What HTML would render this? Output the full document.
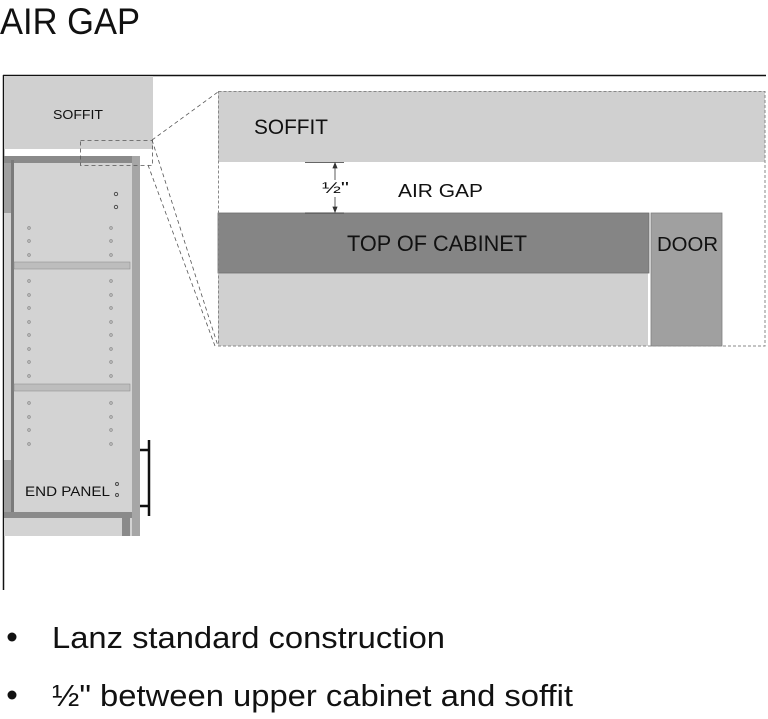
<!DOCTYPE html>
<html><head><meta charset="utf-8"><style>html,body{margin:0;padding:0;background:#fff}svg{display:block}text{font-family:"Liberation Sans",sans-serif;fill:#111}</style></head><body>
<svg width="768" height="719" viewBox="0 0 768 719" xmlns="http://www.w3.org/2000/svg">
<text x="0" y="34" font-size="37" textLength="140" lengthAdjust="spacingAndGlyphs">AIR GAP</text>
<line x1="3.5" y1="75" x2="3.5" y2="590" stroke="#111" stroke-width="1.5"/>
<line x1="3" y1="75.5" x2="766" y2="75.5" stroke="#111" stroke-width="1.5"/>
<rect x="4" y="76" width="149" height="73" fill="#d0d0d0"/>
<text x="53" y="119" font-size="13" textLength="50" lengthAdjust="spacingAndGlyphs">SOFFIT</text>
<rect x="4" y="156" width="136" height="380" fill="#d3d3d3"/>
<rect x="4" y="156" width="128" height="7" fill="#8a8a8a"/>
<rect x="132" y="156" width="8" height="380" fill="#a6a6a6"/>
<rect x="11" y="160" width="3" height="352" fill="#7a7a7a"/>
<rect x="4" y="163" width="7" height="50" fill="#a0a0a0"/>
<rect x="4" y="460" width="7" height="52" fill="#a0a0a0"/>
<rect x="4" y="512" width="128" height="6" fill="#8a8a8a"/>
<rect x="122" y="518" width="8" height="18" fill="#8a8a8a"/>
<rect x="14" y="262" width="116" height="7" fill="#bdbdbd" stroke="#888" stroke-width="0.5"/>
<rect x="14" y="384" width="116" height="7" fill="#bdbdbd" stroke="#888" stroke-width="0.5"/>
<g fill="none" stroke="#888" stroke-width="0.8">
<circle cx="29" cy="228" r="1.3"/><circle cx="111" cy="228" r="1.3"/>
<circle cx="29" cy="241" r="1.3"/><circle cx="111" cy="241" r="1.3"/>
<circle cx="29" cy="255" r="1.3"/><circle cx="111" cy="255" r="1.3"/>
<circle cx="29" cy="281" r="1.3"/><circle cx="111" cy="281" r="1.3"/>
<circle cx="29" cy="295" r="1.3"/><circle cx="111" cy="295" r="1.3"/>
<circle cx="29" cy="308" r="1.3"/><circle cx="111" cy="308" r="1.3"/>
<circle cx="29" cy="322" r="1.3"/><circle cx="111" cy="322" r="1.3"/>
<circle cx="29" cy="335" r="1.3"/><circle cx="111" cy="335" r="1.3"/>
<circle cx="29" cy="349" r="1.3"/><circle cx="111" cy="349" r="1.3"/>
<circle cx="29" cy="362" r="1.3"/><circle cx="111" cy="362" r="1.3"/>
<circle cx="29" cy="376" r="1.3"/><circle cx="111" cy="376" r="1.3"/>
<circle cx="29" cy="403" r="1.3"/><circle cx="111" cy="403" r="1.3"/>
<circle cx="29" cy="417" r="1.3"/><circle cx="111" cy="417" r="1.3"/>
<circle cx="29" cy="430" r="1.3"/><circle cx="111" cy="430" r="1.3"/>
<circle cx="29" cy="444" r="1.3"/><circle cx="111" cy="444" r="1.3"/>
</g>
<g fill="none" stroke="#444" stroke-width="0.9">
<circle cx="116" cy="194" r="1.7"/><circle cx="116" cy="207" r="1.7"/>
<circle cx="117" cy="484" r="1.5"/><circle cx="117" cy="495" r="1.5"/>
</g>
<text x="25" y="496" font-size="14" textLength="85" lengthAdjust="spacingAndGlyphs">END PANEL</text>
<g stroke="#111" stroke-width="2.5" fill="none">
<line x1="149" y1="440" x2="149" y2="516"/>
<line x1="140" y1="450" x2="149" y2="450"/>
<line x1="140" y1="506" x2="149" y2="506"/>
</g>
<rect x="218" y="91" width="547" height="71" fill="#d0d0d0"/>
<rect x="218" y="273" width="430" height="73" fill="#d0d0d0"/>
<rect x="218" y="213" width="431" height="60" fill="#858585" stroke="#6e6e6e" stroke-width="0.8"/>
<rect x="651" y="213" width="71" height="133" fill="#a0a0a0" stroke="#808080" stroke-width="0.8"/>
<rect x="218.5" y="91.5" width="546.5" height="254.5" fill="none" stroke="#888" stroke-width="1" stroke-dasharray="3,2"/>
<text x="254" y="134" font-size="21" textLength="74" lengthAdjust="spacingAndGlyphs">SOFFIT</text>
<text x="347" y="251" font-size="22" textLength="180" lengthAdjust="spacingAndGlyphs">TOP OF CABINET</text>
<text x="657" y="251" font-size="20" textLength="61" lengthAdjust="spacingAndGlyphs">DOOR</text>
<text x="398" y="197" font-size="18" textLength="85" lengthAdjust="spacingAndGlyphs">AIR GAP</text>
<text x="322" y="193" font-size="16" textLength="27" lengthAdjust="spacingAndGlyphs">½"</text>
<g stroke="#333" stroke-width="0.8" fill="#333">
<line x1="305" y1="162.5" x2="344" y2="162.5"/>
<line x1="305" y1="213" x2="344" y2="213"/>
<line x1="335" y1="164" x2="335" y2="180"/>
<line x1="335" y1="197" x2="335" y2="212"/>
<path d="M335 163 l-2 5 h4z"/><path d="M335 212 l-2 -5 h4z"/>
</g>
<g stroke="#555" stroke-width="0.8" fill="none" stroke-dasharray="4,3">
<rect x="80.5" y="140.5" width="72" height="25"/>
<line x1="152" y1="140" x2="218" y2="92"/>
<line x1="152" y1="140" x2="218" y2="346"/>
<line x1="148" y1="165" x2="215" y2="346"/>
</g>
<circle cx="12" cy="637" r="4.5" fill="#111"/>
<text x="52" y="648" font-size="31" textLength="393" lengthAdjust="spacingAndGlyphs">Lanz standard construction</text>
<circle cx="12" cy="695" r="4.5" fill="#111"/>
<text x="52" y="706" font-size="31" textLength="521" lengthAdjust="spacingAndGlyphs">½" between upper cabinet and soffit</text>
</svg>
</body></html>
